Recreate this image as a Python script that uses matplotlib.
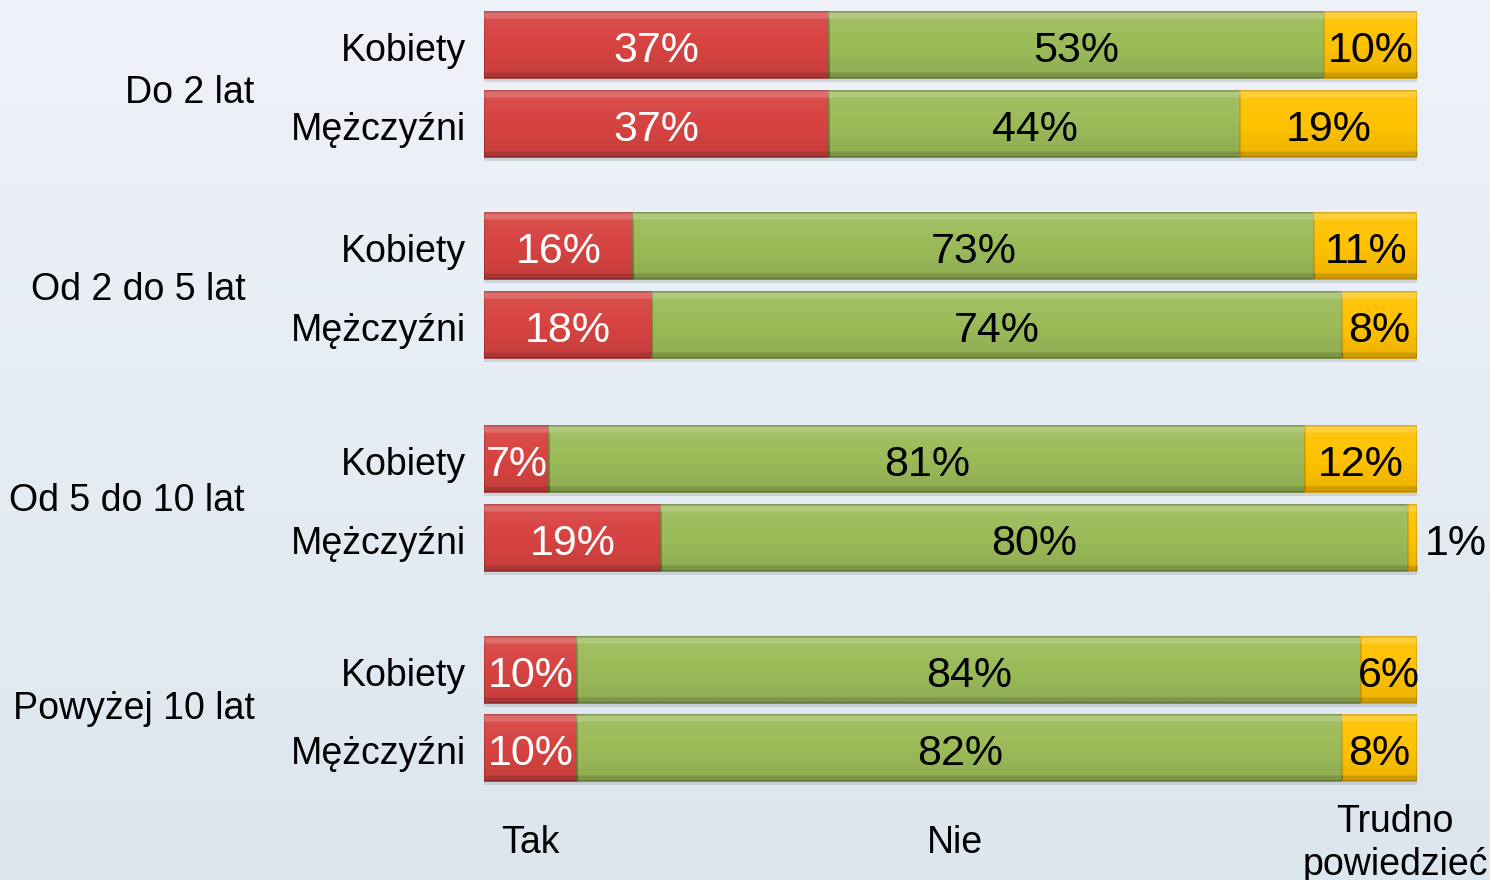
import numpy as np
import matplotlib.pyplot as plt

plt.rcParams['font.family'] = ['Liberation Sans', 'DejaVu Sans']

groups = ['Do 2 lat', 'Od 2 do 5 lat', 'Od 5 do 10 lat', 'Powyżej 10 lat']
rows = ['Kobiety', 'Mężczyźni'] * 4
tak = [37, 37, 16, 18, 7, 19, 10, 10]
nie = [53, 44, 73, 74, 81, 80, 84, 82]
trudno = [10, 19, 11, 8, 12, 1, 6, 8]
series_names = ['Tak', 'Nie', 'Trudno\npowiedzieć']

# layout (pixels of the 1490x880 picture)
W, H = 1490, 880
row_y = [45, 124, 246, 325, 459, 538, 670, 748]
group_xy = [(190, 93), (138, 290), (127, 501), (134, 709)]
name_x = [530, 955, 1395]
bar_h = 66
colors = ['#D64341', '#9BBB59', '#FFC200']
edges = ['#A83230', '#6F8A3C', '#D9A000']

fig = plt.figure(figsize=(W / 100, H / 100), dpi=100)

# background gradient
bg = fig.add_axes([0, 0, 1, 1])
t = np.linspace(0, 1, 200)[:, None]
top = np.array([0.937, 0.949, 0.973])
bot = np.array([0.863, 0.902, 0.937])
grad = top + (bot - top) * t[..., None]
bg.imshow(np.repeat(grad, 2, axis=1), aspect='auto', extent=(0, 1, 0, 1))
bg.axis('off')

ax = fig.add_axes([484 / W, 0, 933 / W, 1])
ax.set_xlim(0, 100)
ax.set_ylim(H, 0)
ax.axis('off')

# shading overlay for the bevel look
shade = np.zeros((60, 1, 4))
a = np.linspace(0, 1, 60)
shade[:, 0, :3] = np.where(a[:, None] < 0.5, 1.0, 0.0)
shade[:, 0, 3] = np.where(a < 0.1, 0.22, np.where(a < 0.5, 0.06 * (0.5 - a) / 0.4,
                          np.where(a > 0.92, 0.2, 0.07 * (a - 0.5) / 0.42)))

left = np.zeros(len(rows))
for vals, c, ec in zip([tak, nie, trudno], colors, edges):
    # drop shadow
    ax.barh(np.array(row_y) + 4, vals, left=left, height=bar_h, color='#9aa3ad',
            alpha=0.35, linewidth=0, zorder=1)
    bars = ax.barh(row_y, vals, left=left, height=bar_h, color=c, edgecolor=ec,
                   linewidth=1.2, zorder=2)
    for b in bars:
        x0, y0 = b.get_x(), b.get_y()
        im = ax.imshow(shade, aspect='auto', zorder=3,
                       extent=(x0, x0 + b.get_width(), y0 + bar_h, y0))
        im.set_clip_path(b)
    left += np.array(vals)

ax.set_xlim(0, 100)
ax.set_ylim(H, 0)

# value labels
for i in range(len(rows)):
    segs = [tak[i], nie[i], trudno[i]]
    start = 0
    for j, v in enumerate(segs):
        col = 'white' if j == 0 else 'black'
        if v < 3:
            ax.text(start + v + 0.8, row_y[i] + 6, f'{v}%', ha='left', va='center',
                    fontsize=31, color='black', zorder=5, clip_on=False)
        else:
            ax.text(start + v / 2, row_y[i] + 6, f'{v}%', ha='center', va='center',
                    fontsize=31, color=col, zorder=5)
        start += v

# row labels
for y, r in zip(row_y, rows):
    fig.text(466 / W, 1 - (y + 6) / H, r, ha='right', va='center', fontsize=27)

for (gx, gy), g in zip(group_xy, groups):
    fig.text(gx / W, 1 - gy / H, g, ha='center', va='center', fontsize=27)

for nx, n in zip(name_x, series_names):
    fig.text(nx / W, 1 - 843 / H, n, ha='center', va='center', fontsize=27,
             linespacing=1.25)

fig.savefig('out.png', dpi=100)
